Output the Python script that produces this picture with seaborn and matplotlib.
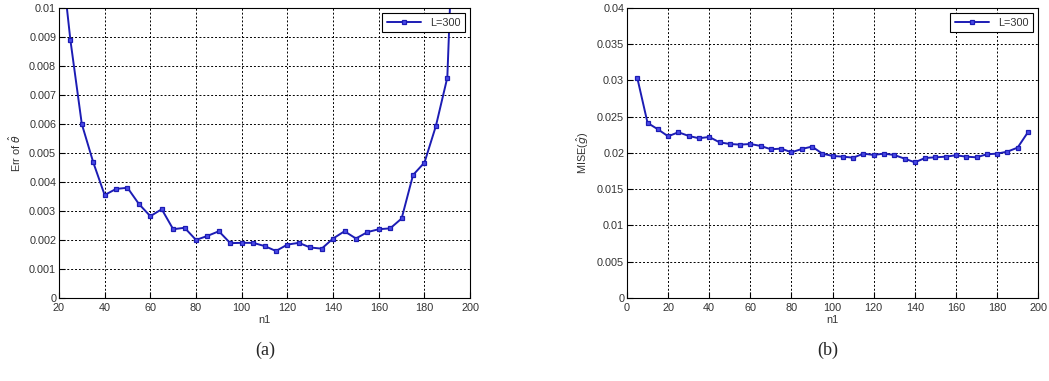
import numpy as np
import pandas as pd
import matplotlib
matplotlib.use("Agg")
import matplotlib.pyplot as plt
import seaborn as sns

sns.set_style("ticks")
plt.rcParams["font.family"] = ["Liberation Sans", "DejaVu Sans"]

# panel (a): error of theta-hat against n1
n1_a = [20, 25, 30, 35, 40, 45, 50, 55, 60, 65, 70, 75, 80, 85, 90, 95, 100,
        105, 110, 115, 120, 125, 130, 135, 140, 145, 150, 155, 160, 165, 170,
        175, 180, 185, 190, 195]
err_a = [0.0125, 0.0089, 0.0060, 0.00468, 0.00355, 0.00376, 0.0038, 0.00324,
         0.00282, 0.00306, 0.00237, 0.00242, 0.0020, 0.00214, 0.0023, 0.00189,
         0.0019, 0.0019, 0.00179, 0.00162, 0.00184, 0.0019, 0.00174, 0.0017,
         0.00205, 0.0023, 0.00205, 0.00227, 0.00237, 0.0024, 0.00274, 0.00424,
         0.00467, 0.00593, 0.0076, 0.0181]

# panel (b): MISE of g-hat against n1
n1_b = list(range(5, 200, 5))
mise_b = [0.03037, 0.02415, 0.02327, 0.0223, 0.02286, 0.02235, 0.02203, 0.02221,
          0.02147, 0.02124, 0.02115, 0.02124, 0.02097, 0.02051, 0.0206, 0.02009,
          0.02055, 0.02088, 0.01991, 0.01959, 0.01949, 0.01935, 0.01991, 0.01972,
          0.01991, 0.01972, 0.01922, 0.01871, 0.01931, 0.0194, 0.01949, 0.01968,
          0.01949, 0.0194, 0.01982, 0.01991, 0.02018, 0.02074, 0.02286]

df_a = pd.DataFrame({"n1": n1_a, "val": err_a})
df_b = pd.DataFrame({"n1": n1_b, "val": mise_b})

blue = "#1c1cb4"
face = "#4a4ae8"
txt = "#333333"

fig = plt.figure(figsize=(10.49, 3.81), dpi=100)
ax_a = fig.add_axes([0.0562, 0.218, 0.392, 0.761])
ax_b = fig.add_axes([0.5977, 0.218, 0.392, 0.761])


def style_axis(ax, xlim, ylim, yticks, ylabel):
    ax.set_xlim(*xlim)
    ax.set_ylim(*ylim)
    ax.set_xticks(np.arange(xlim[0], xlim[1] + 1, 20))
    ax.set_yticks(yticks)
    ax.set_yticklabels(["0" if t == 0 else ("%g" % t) for t in yticks])
    ax.grid(True, color="black", linestyle=(0, (2, 2)), linewidth=0.7)
    ax.tick_params(direction="in", length=4, labelsize=7.8, colors="black",
                   labelcolor=txt)
    ax.tick_params(axis="x", pad=4)
    ax.tick_params(axis="y", pad=2)
    for s in ax.spines.values():
        s.set_linewidth(0.8)
        s.set_color("black")
    ax.set_xlabel("n1", fontsize=7.8, color=txt, labelpad=1)
    ax.set_ylabel(ylabel, fontsize=7.8, color=txt, labelpad=4)
    leg = ax.legend(["L=300"], loc="upper right", fontsize=7.8, fancybox=False,
                    framealpha=1, edgecolor="black", borderpad=0.4,
                    handlelength=3.2, labelcolor=txt)
    leg.get_frame().set_linewidth(0.8)


sns.lineplot(data=df_a, x="n1", y="val", ax=ax_a, color=blue, marker="s",
             markersize=3.2, markeredgecolor=blue, markerfacecolor=face,
             markeredgewidth=0.9, linewidth=1.4)
style_axis(ax_a, (20, 200), (0, 0.01), np.round(np.arange(0, 0.0101, 0.001), 4),
           r"Err of $\hat{\theta}$")

sns.lineplot(data=df_b, x="n1", y="val", ax=ax_b, color=blue, marker="s",
             markersize=3.2, markeredgecolor=blue, markerfacecolor=face,
             markeredgewidth=0.9, linewidth=1.4)
style_axis(ax_b, (0, 200), (0, 0.04), np.round(np.arange(0, 0.0401, 0.005), 4),
           r"MISE($\hat{g}$)")

fig.text(0.2526, 0.08, "(a)", ha="center", va="center", fontsize=13,
         family="Liberation Serif")
fig.text(0.789, 0.08, "(b)", ha="center", va="center", fontsize=13,
         family="Liberation Serif")

fig.savefig("out.png", dpi=100)
